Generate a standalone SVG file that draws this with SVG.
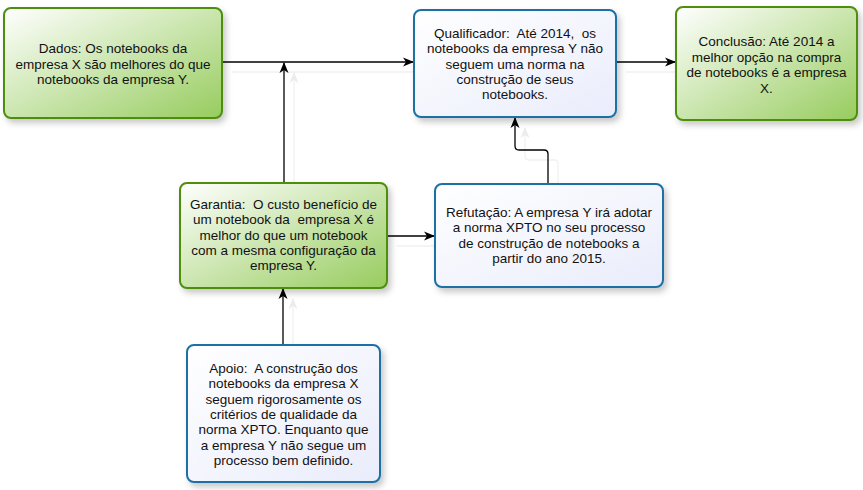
<svg xmlns="http://www.w3.org/2000/svg" width="863" height="490" viewBox="0 0 863 490">
<style>
  .txt { font-family: "Liberation Sans", Arial, sans-serif; font-size: 13.5px; fill: #111; text-anchor: middle; white-space: pre; }
  .g { fill: url(#gg); stroke: #4d8f0f; stroke-width: 2; }
  .b { fill: url(#bg); stroke: #1b70a4; stroke-width: 2; }
  .c { fill: none; stroke: #000; stroke-width: 1.3; }
  .cs { fill: none; stroke: #f1f1f1; stroke-width: 1.3; }
</style>
<defs>
  <linearGradient id="gg" x1="0" y1="0" x2="1" y2="1">
    <stop offset="0" stop-color="#ffffff"/>
    <stop offset="1" stop-color="#97cc5e"/>
  </linearGradient>
  <linearGradient id="bg" x1="0" y1="0" x2="1" y2="1">
    <stop offset="0" stop-color="#ffffff"/>
    <stop offset="1" stop-color="#e9ecfb"/>
  </linearGradient>
  <filter id="sh" x="-10%" y="-10%" width="130%" height="140%">
    <feDropShadow dx="3" dy="4" stdDeviation="3" flood-color="#000" flood-opacity="0.22"/>
  </filter>
  <marker id="ar" markerWidth="12" markerHeight="10" refX="10" refY="5" orient="auto" markerUnits="userSpaceOnUse">
    <path d="M0,0.5 L11,5 L0,9.5 L3,5 z" fill="#000"/>
  </marker>
  <marker id="ars" markerWidth="12" markerHeight="10" refX="10" refY="5" orient="auto" markerUnits="userSpaceOnUse">
    <path d="M0,0.5 L11,5 L0,9.5 L3,5 z" fill="#ececec"/>
  </marker>
</defs>
<rect width="863" height="490" fill="#fff"/>

<g id="connector-shadows" transform="translate(10,10)">
  <path class="cs" d="M222,62 L413,62" marker-end="url(#ars)"/>
  <path class="cs" d="M284,183 L284,63" marker-end="url(#ars)"/>
  <path class="cs" d="M616,62 L675,62" marker-end="url(#ars)"/>
  <path class="cs" d="M387,236 L434,236" marker-end="url(#ars)"/>
  <path class="cs" d="M548,184 L548,154 Q548,150 544,150 L519,150 Q515,150 515,146 L515,118" marker-end="url(#ars)"/>
  <path class="cs" d="M283,345 L283,289" marker-end="url(#ars)"/>
</g>

<g id="connectors">
  <path class="c" d="M222,62 L413,62" marker-end="url(#ar)"/>
  <path class="c" d="M284,183 L284,63" marker-end="url(#ar)"/>
  <path class="c" d="M616,62 L675,62" marker-end="url(#ar)"/>
  <path class="c" d="M387,236 L434,236" marker-end="url(#ar)"/>
  <path class="c" d="M548,184 L548,154 Q548,150 544,150 L519,150 Q515,150 515,146 L515,118" marker-end="url(#ar)"/>
  <path class="c" d="M283,345 L283,289" marker-end="url(#ar)"/>
</g>

<g id="dados">
  <rect class="g" x="4" y="8" width="218" height="110" rx="7" filter="url(#sh)"/>
  <text class="txt"><tspan x="113" y="53">Dados: Os notebooks da</tspan><tspan x="113" y="68.5">empresa X são melhores do que</tspan><tspan x="113" y="84">notebooks da empresa Y.</tspan></text>
</g>

<g id="qualificador">
  <rect class="b" x="414" y="10" width="202" height="107" rx="7" filter="url(#sh)"/>
  <text class="txt"><tspan x="515" y="38">Qualificador:  Até 2014,  os</tspan><tspan x="515" y="53.3">notebooks da empresa Y não</tspan><tspan x="515" y="68.6">seguem uma norma na</tspan><tspan x="515" y="83.9">construção de seus</tspan><tspan x="515" y="99.2">notebooks.</tspan></text>
</g>

<g id="conclusao">
  <rect class="g" x="676" y="7" width="181" height="113" rx="7" filter="url(#sh)"/>
  <text class="txt"><tspan x="766.5" y="46">Conclusão: Até 2014 a</tspan><tspan x="766.5" y="61.5">melhor opção na compra</tspan><tspan x="766.5" y="77">de notebooks é a empresa</tspan><tspan x="766.5" y="92.5">X.</tspan></text>
</g>

<g id="garantia">
  <rect class="g" x="180" y="183" width="207" height="105" rx="7" filter="url(#sh)"/>
  <text class="txt"><tspan x="283.5" y="209">Garantia:  O custo benefício de</tspan><tspan x="283.5" y="224.3">um notebook da  empresa X é</tspan><tspan x="283.5" y="239.6">melhor do que um notebook</tspan><tspan x="283.5" y="254.9">com a mesma configuração da</tspan><tspan x="283.5" y="270.2">empresa Y.</tspan></text>
</g>

<g id="refutacao">
  <rect class="b" x="435" y="184" width="228" height="103" rx="7" filter="url(#sh)"/>
  <text class="txt"><tspan x="549" y="217">Refutação: A empresa Y irá adotar</tspan><tspan x="549" y="232.3">a norma XPTO no seu processo</tspan><tspan x="549" y="247.6">de construção de notebooks a</tspan><tspan x="549" y="262.9">partir do ano 2015.</tspan></text>
</g>

<g id="apoio">
  <rect class="b" x="187" y="345" width="193" height="137" rx="7" filter="url(#sh)"/>
  <text class="txt"><tspan x="283.5" y="373">Apoio:  A construção dos</tspan><tspan x="283.5" y="388.3">notebooks da empresa X</tspan><tspan x="283.5" y="403.6">seguem rigorosamente os</tspan><tspan x="283.5" y="418.9">critérios de qualidade da</tspan><tspan x="283.5" y="434.2">norma XPTO. Enquanto que</tspan><tspan x="283.5" y="449.5">a empresa Y não segue um</tspan><tspan x="283.5" y="464.8">processo bem definido.</tspan></text>
</g>
</svg>
